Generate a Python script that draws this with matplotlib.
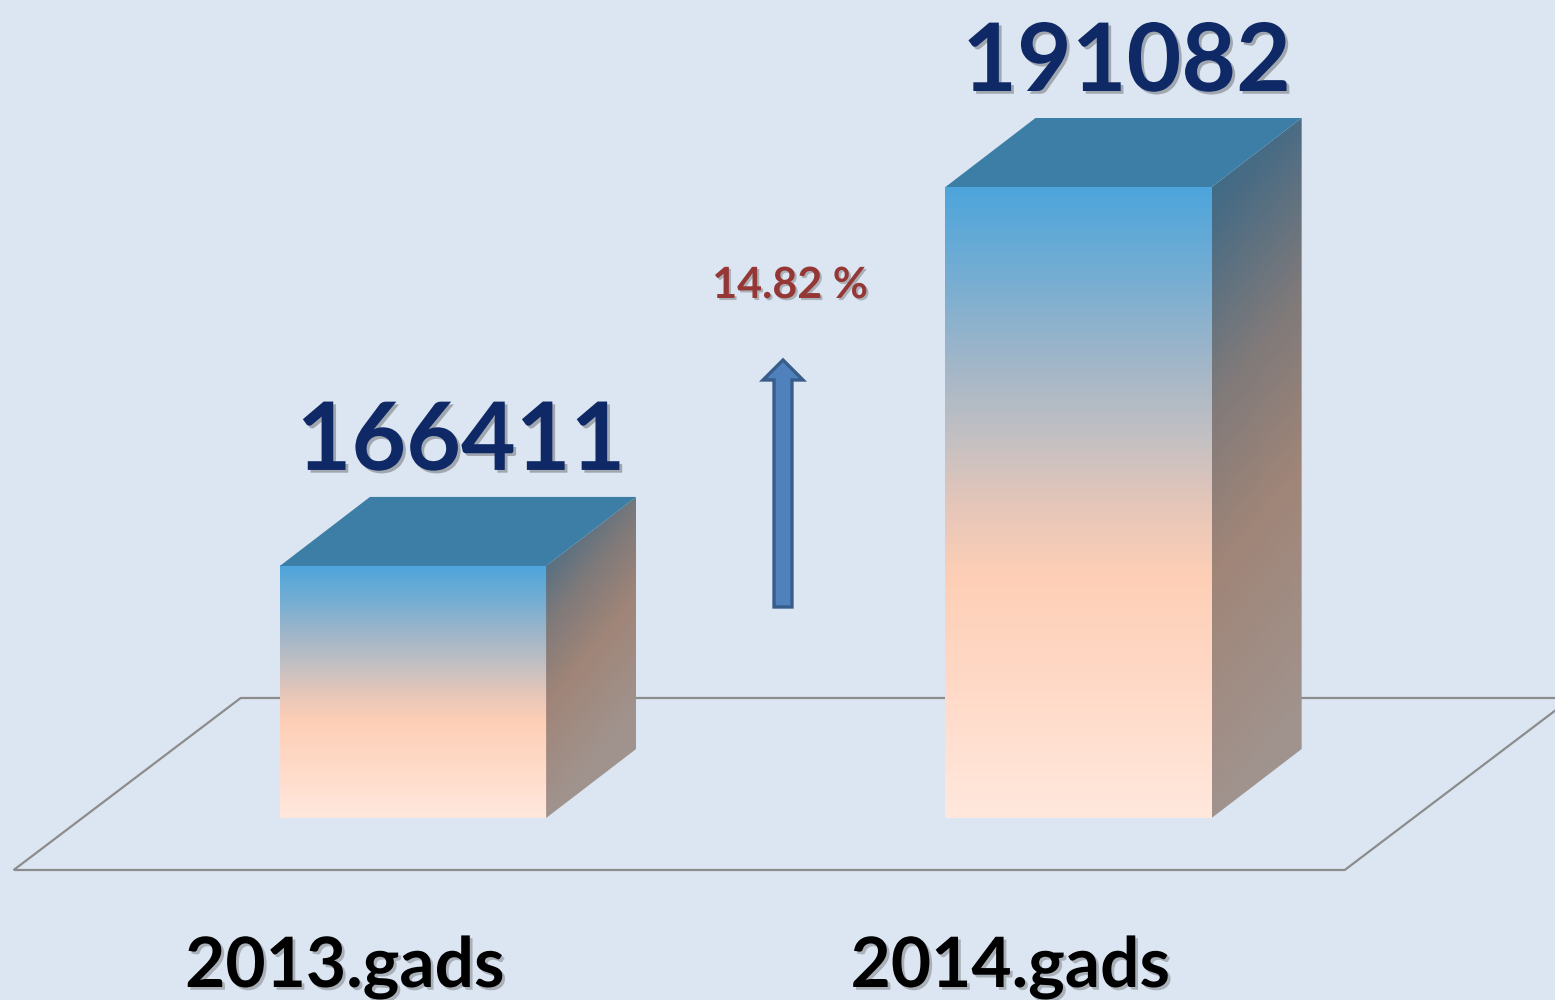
import numpy as np
import matplotlib
matplotlib.use("Agg")
import matplotlib.pyplot as plt
from matplotlib.patches import Polygon, FancyArrow
from matplotlib.colors import LinearSegmentedColormap
from matplotlib import patheffects as pe

# ---- data ----
categories = ["2013.gads", "2014.gads"]
values = [166411, 191082]
value_labels = ["166411", "191082"]
change_label = "14.82 %"
base_value = 150000

# ---- figure / axes ----
W, H, DPI = 1555, 1000, 100
fig = plt.figure(figsize=(W / DPI, H / DPI), dpi=DPI)
BG = "#DCE6F2"
fig.patch.set_facecolor(BG)
ax = fig.add_axes([0, 0, 1, 1])
ax.set_facecolor(BG)
ax.axis("off")

XLIM = (-0.6206, 1.7159)
YLIM = (138150, 203257)
ax.set_xlim(*XLIM)
ax.set_ylim(*YLIM)

px_x = W / (XLIM[1] - XLIM[0])   # pixels per category unit
px_y = H / (YLIM[1] - YLIM[0])   # pixels per value unit

def dxp(p):
    return p / px_x

def dyp(p):
    return p / px_y

bar_w = 0.4
depth_x, depth_y = dxp(90), dyp(69)

font = ["Lato", "DejaVu Sans"]

# ---- floor ----
floor_front = base_value - dyp(52)
floor_back = base_value + dyp(120)
fx0, fx1 = -0.6, 1.4
fdx = dxp(227)
floor = Polygon([(fx0, floor_front), (fx1, floor_front), (fx1 + fdx, floor_back),
                 (fx0 + fdx, floor_back)], closed=True, fill=False,
                edgecolor="#8C8C8C", lw=1.6, zorder=1)
ax.add_patch(floor)

# ---- colormaps ----
front_cmap = LinearSegmentedColormap.from_list("front", [
    (0.0, "#FFE8DD"), (0.2, "#FFDAC8"), (0.38, "#FECFB6"), (0.5, "#E4C6B9"),
    (0.6, "#C4C0C2"), (0.72, "#A2B6C8"), (0.85, "#78AED2"), (1.0, "#4DA5DC")])
side_cmap = LinearSegmentedColormap.from_list("side", [
    (0.0, "#A0938D"), (0.35, "#A08578"), (0.6, "#7F7A7A"), (0.85, "#4A6C84"),
    (1.0, "#346A8B")])
TOP_COLOR = "#3C7EA6"

grad = np.linspace(0, 1, 256).reshape(-1, 1)

for i, v in enumerate(values):
    x0, x1 = i - bar_w / 2, i + bar_w / 2
    yb, yt = base_value, v
    # front face gradient
    ax.imshow(grad, cmap=front_cmap, origin="lower", aspect="auto",
              extent=(x0, x1, yb, yt), zorder=3, interpolation="bilinear")
    # side face gradient (diagonal)
    side_poly = Polygon([(x1, yb), (x1 + depth_x, yb + depth_y),
                         (x1 + depth_x, yt + depth_y), (x1, yt)], closed=True,
                        facecolor="none", edgecolor="none", zorder=3)
    ax.add_patch(side_poly)
    nx, ny = 64, 256
    gx, gy = np.meshgrid(np.linspace(0, 1, nx), np.linspace(0, 1, ny))
    hpx = (yt + depth_y - yb) * px_y
    t = gy - gx * (90.0 / max(hpx, 1)) * 1.2
    t = np.clip(t, 0, 1)
    im = ax.imshow(t, cmap=side_cmap, origin="lower", aspect="auto",
                   extent=(x1, x1 + depth_x, yb, yt + depth_y), zorder=3,
                   interpolation="bilinear", vmin=0, vmax=1)
    im.set_clip_path(side_poly)
    # top face
    top = Polygon([(x0, yt), (x1, yt), (x1 + depth_x, yt + depth_y),
                   (x0 + depth_x, yt + depth_y)], closed=True,
                  facecolor=TOP_COLOR, edgecolor="none", zorder=4)
    ax.add_patch(top)
    # value label
    ax.text(i + depth_x / 2 + dxp(3), yt + depth_y + dyp(27), value_labels[i],
            ha="center", va="baseline", fontsize=68, fontweight="bold",
            color="#0E2966", family=font, zorder=6,
            path_effects=[pe.withSimplePatchShadow(offset=(2, -2), alpha=0.35,
                                                   shadow_rgbFace="#333333")])
    # category label
    ax.text(i - dxp(68), base_value - dyp(169), categories[i],
            ha="center", va="baseline", fontsize=50, fontweight="bold",
            color="#000000", family=font, zorder=6,
            path_effects=[pe.withSimplePatchShadow(offset=(2, -2), alpha=0.3,
                                                   shadow_rgbFace="#333333")])

ax.set_xlim(*XLIM)
ax.set_ylim(*YLIM)

# ---- growth annotation ----
ax.text(790 / W, 1 - 298 / H, change_label, transform=ax.transAxes,
        ha="center", va="baseline", fontsize=31, fontweight="bold",
        color="#953735", family=font, zorder=6,
        path_effects=[pe.withSimplePatchShadow(offset=(1.5, -1.5), alpha=0.3,
                                               shadow_rgbFace="#333333")])
arrow = FancyArrow(783 / W, 1 - 607 / H, 0, (607 - 360) / H,
                   width=18 / W, head_width=40 / W, head_length=20 / H,
                   length_includes_head=True, transform=ax.transAxes,
                   facecolor="#4F81BD", edgecolor="#385D8A", lw=2.4, zorder=6)
ax.add_patch(arrow)

fig.savefig("out.png", dpi=DPI, facecolor=BG)
